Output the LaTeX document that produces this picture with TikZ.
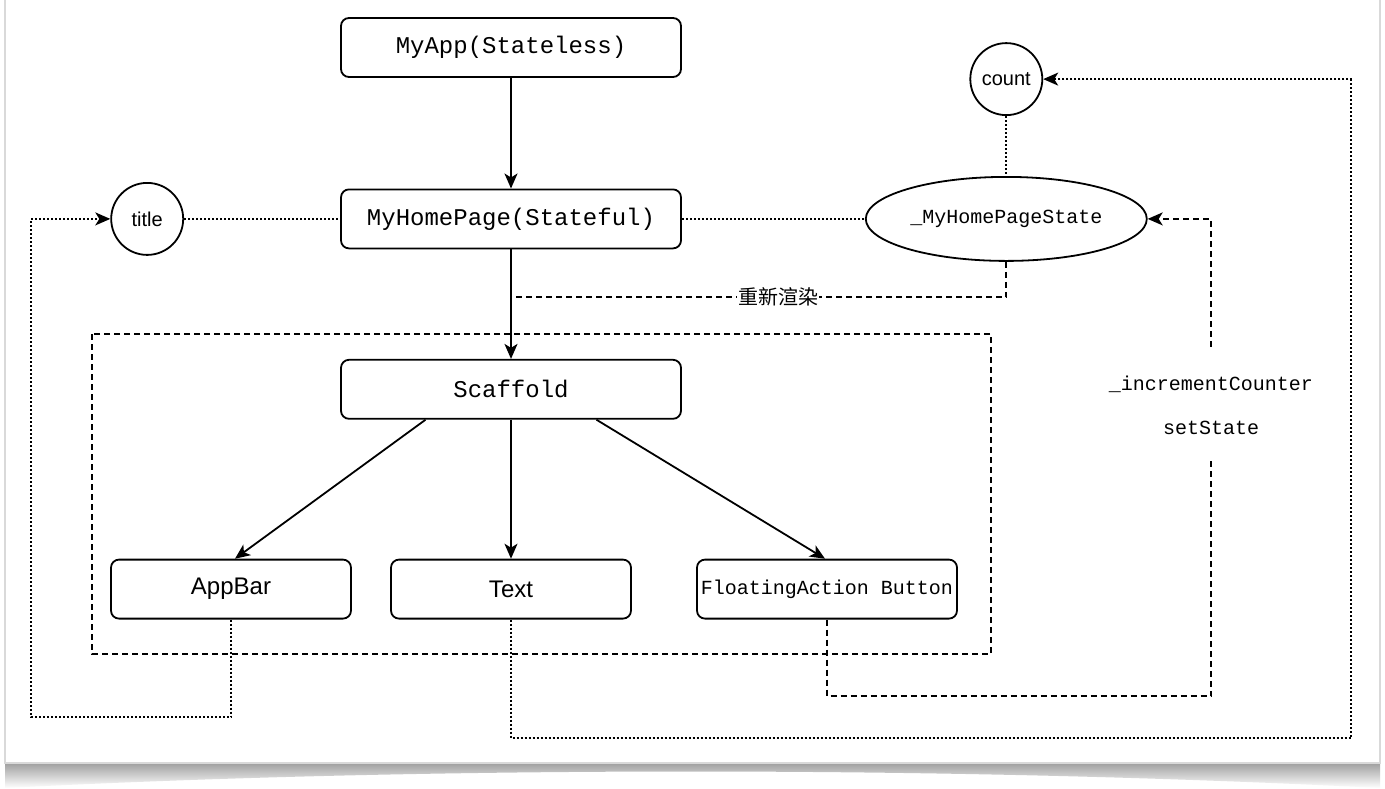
\documentclass[tikz,border=0pt]{standalone}
\usepackage{fontspec}
\setmainfont{Liberation Sans}
\newfontfamily\codefont{Liberation Mono}
\newfontfamily\cjkfont{Noto Sans CJK SC}
\usetikzlibrary{shapes.geometric, arrows.meta, positioning, calc, shadings}

\begin{document}
\begin{tikzpicture}[
        x=1pt, y=-1pt,
        widget/.style={draw, rounded corners=8pt, line width=1.8pt, minimum width=340pt, minimum height=59pt, font=\codefont\fontsize{24}{28}\selectfont},
        leaf/.style={widget, minimum width=240pt, font=\fontsize{24}{28}\selectfont},
        prop/.style={draw, circle, line width=1.8pt, minimum size=72pt, inner sep=0pt, font=\fontsize{20}{24}\selectfont},
        tip/.style={-{Stealth[length=15pt, width=13pt, inset=4pt]}},
        link/.style={line width=1.8pt},
        dotline/.style={line width=1.8pt, dash pattern=on 2pt off 2pt},
        dashline/.style={line width=1.8pt, dash pattern=on 6pt off 4pt}
    ]
        % page and shadow
        \useasboundingbox (0,0) rectangle (1385,788);
        \fill[white] (0,0) rectangle (1385,788);
        \shade[top color=gray!75, bottom color=white] (5,763) -- (1380,763) -- (1380,788) .. controls (950,766) and (430,766) .. (5,788) -- cycle;
        \draw[gray!30, line width=1.5pt, fill=white] (5,0) -- (5,763) -- (1380,763) -- (1380,0);

        \node[widget] (myapp) at (511,47.5) {MyApp(Stateless)};
        \node[widget, below=110.6pt of myapp] (home) {MyHomePage(Stateful)};
        \node[widget, below=109.6pt of home] (scaffold) {Scaffold};
        \node[leaf, below=139pt of scaffold] (txt) {Text};
        \node[leaf, left=38.2pt of txt] (appbar) {AppBar};
        \node[leaf, right=64.2pt of txt, minimum width=260pt, font=\codefont\fontsize{20}{24}\selectfont, inner xsep=2pt] (fab) {FloatingAction Button};
        \node[prop, left=156pt of home] (title) {title};
        \node[draw, ellipse, line width=1.8pt, minimum width=280pt, minimum height=84pt, font=\codefont\fontsize{20}{24}\selectfont, right=183pt of home] (state) {\_MyHomePageState};
        \node[prop, above=60pt of state] (count) {count};

        % scaffold group
        \draw[dashline] (92,334) rectangle (991,654);

        \draw[link, tip] (myapp) -- (home);
        \draw[link, tip] (home) -- (scaffold);
        \draw[link, tip] ($(scaffold.south west)!0.25!(scaffold.south east)$) -- ([xshift=4pt]appbar.north);
        \draw[link, tip] (scaffold) -- (txt);
        \draw[link, tip] ($(scaffold.south west)!0.75!(scaffold.south east)$) -- ([xshift=-2pt]fab.north);

        \draw[dotline] (title) -- (home);
        \draw[dotline] (home) -- (state);
        \draw[dotline] (count) -- (state);

        % rebuild
        \coordinate (rebuild) at (511,297);
        \draw[dashline] (state.south) |- node[pos=0.73, fill=white, inner sep=1pt, font=\cjkfont\fontsize{20}{24}\selectfont] (redraw) {重新渲染} (rebuild);

        % callbacks
        \coordinate (abturn) at (31,717);
        \coordinate (txturn) at (1351,738);
        \coordinate (fabturn) at (1211,696);
        \draw[dotline, tip] (appbar.south) |- (abturn) |- (title.west);
        \draw[dotline, tip] (txt.south) |- (txturn) |- (count.east);
        \draw[dashline, tip] (fab.south) |- (fabturn) |- (state.east);
        \node[fill=white, align=center, inner xsep=2pt, inner ysep=25pt, font=\codefont\fontsize{20}{24}\selectfont] (setst) at (1211,405) {\_incrementCounter\\[20pt]setState};
    \end{tikzpicture}
\end{document}
